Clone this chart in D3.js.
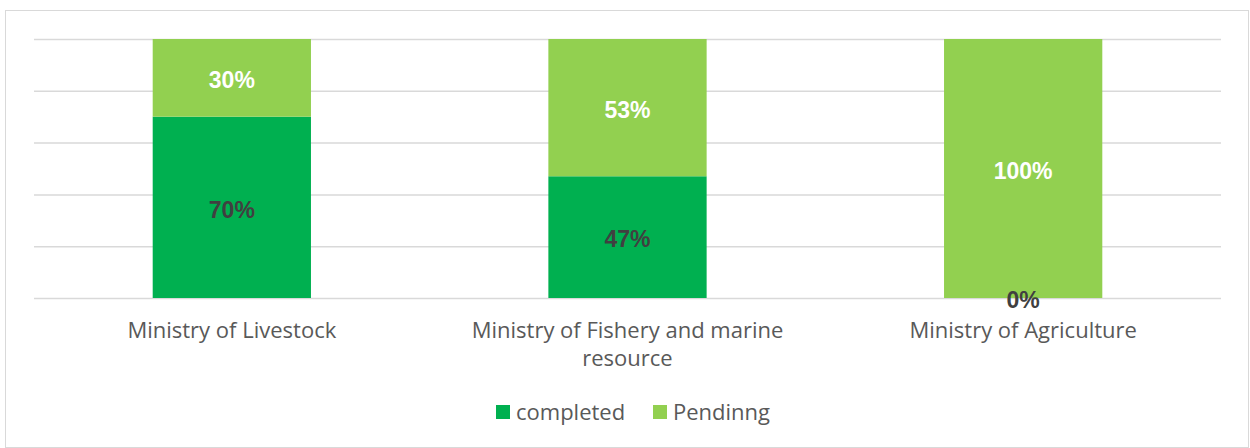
<!DOCTYPE html>
<html>
<head>
<meta charset="utf-8">
<script src="https://cdn.jsdelivr.net/npm/d3@7"></script>
<style>
  body { margin: 0; background: #fff; }
</style>
</head>
<body>
<svg width="1250" height="448"></svg>
<script>
const categories = [['Ministry of Livestock'], ['Ministry of Fishery and marine', 'resource'], ['Ministry of Agriculture']];
const completed = [70, 47, 0];
const pending = [30, 53, 100];
const seriesNames = ['completed', 'Pendinng'];
const ticks = [0, 20, 40, 60, 80, 100];

const svg = d3.select('svg');
const width = +svg.attr('width');
const height = +svg.attr('height');

// chart frame
svg.append('rect')
  .attr('x', 5.5).attr('y', 10.5)
  .attr('width', 1243).attr('height', 437)
  .attr('fill', '#fff').attr('stroke', '#d9d9d9');

const margin = { top: 39, left: 34, right: 29, bottom: 150 };
const innerWidth = width - margin.left - margin.right;
const innerHeight = 298 - margin.top;

const g = svg.append('g')
  .attr('transform', `translate(${margin.left},${margin.top})`);

const data = categories.map((c, i) => ({ name: c.join(' '), lines: c, completed: completed[i], pending: pending[i] }));

const xScale = d3.scaleBand()
  .domain(data.map(d => d.name))
  .range([0, innerWidth])
  .paddingInner(0.6)
  .paddingOuter(0.3);

const yScale = d3.scaleLinear()
  .domain([0, 100])
  .range([innerHeight, 0]);

// gridlines
const yAxis = d3.axisLeft(yScale).tickValues(ticks).tickSize(-innerWidth).tickFormat('');
const yAxisG = g.append('g').call(yAxis);
yAxisG.select('.domain').remove();
yAxisG.selectAll('.tick text').remove();
yAxisG.selectAll('.tick line').attr('stroke', '#d9d9d9').attr('stroke-width', 1.5);

const colors = { completed: '#00b050', pending: '#92d050' };

// bars
const stack = d3.stack().keys(['completed', 'pending'])(data);
g.selectAll('.series')
  .data(stack).enter()
  .append('g')
    .attr('fill', s => colors[s.key])
  .selectAll('rect')
  .data(s => s).enter()
  .append('rect')
    .attr('x', d => xScale(d.data.name))
    .attr('y', d => yScale(d[1]))
    .attr('width', xScale.bandwidth())
    .attr('height', d => yScale(d[0]) - yScale(d[1]));

// data labels
stack.forEach(s => {
  g.selectAll('.lbl-' + s.key)
    .data(s).enter()
    .append('text')
      .attr('x', d => xScale(d.data.name) + xScale.bandwidth() / 2)
      .attr('y', d => (yScale(d[0]) + yScale(d[1])) / 2 + 2)
      .attr('dy', '0.36em')
      .attr('text-anchor', 'middle')
      .style('font-family', 'Liberation Sans, Arial, sans-serif')
      .style('font-weight', 'bold')
      .style('font-size', '23px')
      .attr('fill', s.key === 'completed' ? '#404040' : '#ffffff')
      .text(d => (d[1] - d[0]) + '%');
});

// category labels
const xLabels = g.append('g').selectAll('text')
  .data(data).enter()
  .append('text')
    .attr('x', d => xScale(d.name) + xScale.bandwidth() / 2)
    .attr('y', innerHeight + 40)
    .attr('text-anchor', 'middle')
    .style('font-family', 'Open Sans, sans-serif')
    .style('font-size', '22px')
    .attr('fill', '#595959');
xLabels.selectAll('tspan')
  .data(d => d.lines).enter()
  .append('tspan')
    .attr('x', function () { return d3.select(this.parentNode).attr('x'); })
    .attr('dy', (d, i) => i === 0 ? 0 : 28)
    .text(d => d);

// legend
const legend = svg.append('g').attr('transform', 'translate(496,412)');
const legendX = [0, 157];
seriesNames.forEach((name, i) => {
  const item = legend.append('g').attr('transform', `translate(${legendX[i]},0)`);
  item.append('rect')
    .attr('x', 0).attr('y', -7)
    .attr('width', 14).attr('height', 14)
    .attr('fill', i === 0 ? colors.completed : colors.pending);
  item.append('text')
    .attr('x', 20).attr('y', 0)
    .attr('dy', '0.35em')
    .style('font-family', 'Open Sans, sans-serif')
    .style('font-size', '22px')
    .attr('fill', '#595959')
    .text(name);
});
</script>
</body>
</html>
